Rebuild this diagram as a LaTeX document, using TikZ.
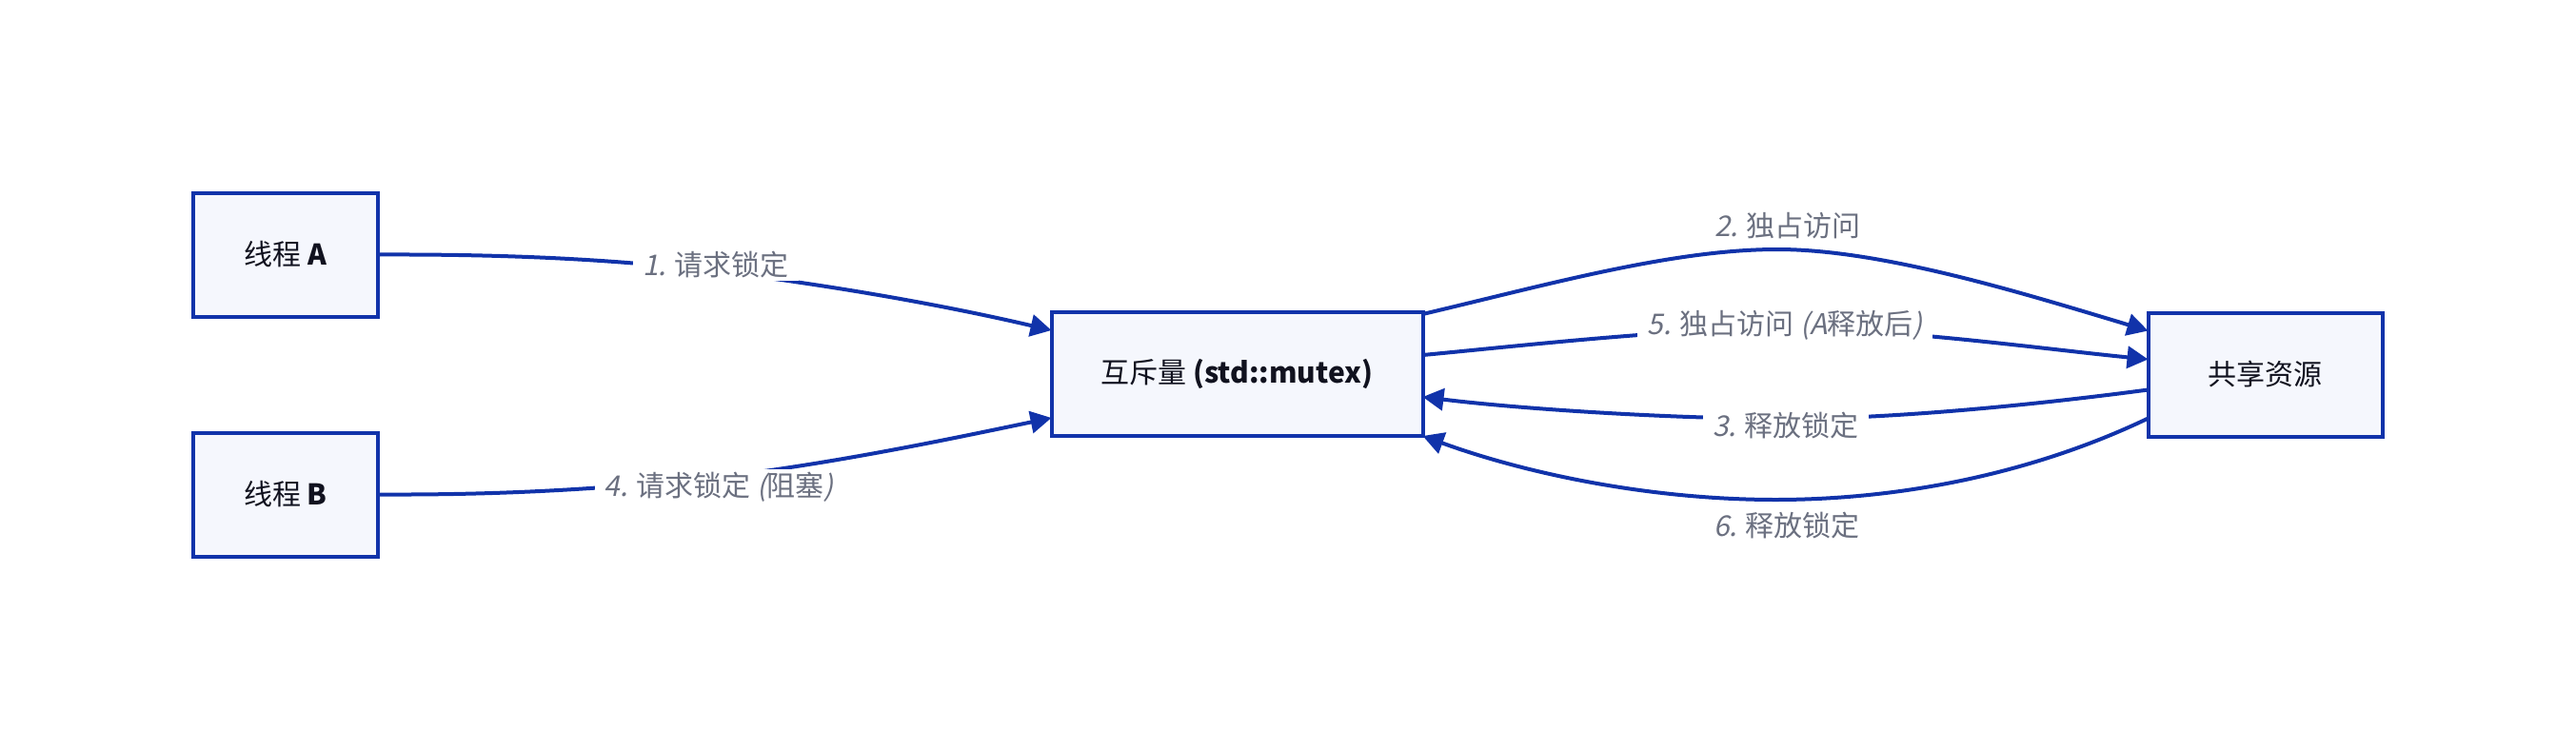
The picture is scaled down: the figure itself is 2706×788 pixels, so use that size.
\documentclass[tikz,border=0pt]{standalone}
\usepackage{fontspec}
\setmainfont{Noto Sans CJK SC}
\newfontfamily\latital[FakeSlant=0.2]{Noto Sans CJK SC}
\usetikzlibrary{arrows.meta}
\definecolor{edgeblue}{HTML}{1133AA}
\definecolor{boxfill}{HTML}{F5F7FD}
\definecolor{lblgray}{HTML}{6B7080}
\definecolor{ntext}{HTML}{11121F}
\tikzset{
  box/.style={draw=edgeblue, fill=boxfill, line width=4pt, outer sep=0pt,
    text=ntext, font=\fontsize{30}{36}\selectfont, inner sep=0pt},
  conn/.style={draw=edgeblue, line width=4pt, -{Triangle[length=22pt,width=23pt]}},
  lab/.style={fill=white, text=lblgray, font=\fontsize{30}{36}\selectfont,
    inner xsep=10pt, inner ysep=3pt},
}
\begin{document}
\begin{tikzpicture}[x=1pt,y=-1pt]
\useasboundingbox[fill=white] (0,0) rectangle (2706,788);

\node[box, minimum width=194pt, minimum height=130pt] (A) at (300,267.5) {线程 {\bfseries A}};
\node[box, minimum width=194pt, minimum height=130pt] (B) at (300,519.5) {线程 {\bfseries B}};
\node[box, minimum width=390pt, minimum height=130pt] (M) at (1299.5,393) {互斥量 {\bfseries (std::mutex)}};
\node[box, minimum width=246pt, minimum height=130pt] (R) at (2379.5,393.5) {共享资源};

% 1
\draw[conn] (A.east) .. controls (530,267) and (640,272) .. (752,285)
  .. controls (860,298) and (980,318) .. ([yshift=46pt]M.west);
% 4
\draw[conn] (B.east) .. controls (520,520) and (610,515) .. (720,505)
  .. controls (850,492) and (980,465) .. ([yshift=-46pt]M.west);
% 2
\draw[conn] ([yshift=63pt]M.east) .. controls (1626,299) and (1757,262) .. (1867,262)
  .. controls (1977,262) and (2125,308) .. ([yshift=46pt]R.west);
% 5
\draw[conn] ([yshift=20pt]M.east) .. controls (1600,363) and (1760,345) .. (1875,345)
  .. controls (1990,345) and (2150,367) .. ([yshift=16pt]R.west);
% 3
\draw[conn] ([yshift=-16pt]R.west) .. controls (2140,425) and (1990,440) .. (1876,440)
  .. controls (1760,440) and (1600,430) .. ([yshift=-24pt]M.east);
% 6
\draw[conn] ([yshift=-46pt]R.west) .. controls (2130,500) and (1990,525) .. (1865,525)
  .. controls (1740,525) and (1610,500) .. ([yshift=-65pt]M.east);

\node[lab] (l1) at (752,278) {{\latital 1.} 请求锁定};
\node[lab] (l4) at (755,512) {{\latital 4.} 请求锁定 {\latital (}阻塞{\latital )}};
\node[lab] (l2) at (1878,237) {{\latital 2.} 独占访问};
\node[lab] (l5) at (1875,342) {{\latital 5.} 独占访问 {\latital (A}释放后{\latital )}};
\node[lab] (l3) at (1876,447) {{\latital 3.} 释放锁定};
\node[lab] (l6) at (1877,552) {{\latital 6.} 释放锁定};
\end{tikzpicture}
\end{document}
